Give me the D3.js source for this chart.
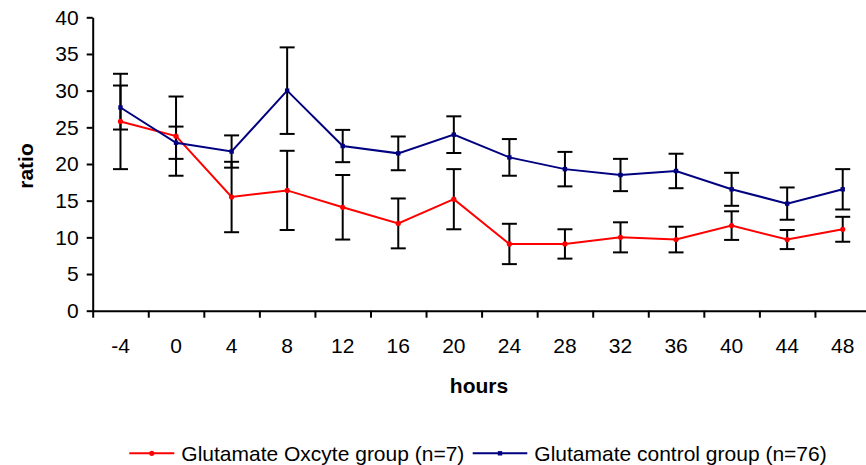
<!DOCTYPE html>
<meta charset="utf-8">
<style>
body { margin: 0; background: #fff; }
text { font-family: Arial, "Liberation Sans", sans-serif; fill: #000; }
.axis path, .axis line { stroke: #000; stroke-width: 2px; }
.axis text { font-size: 21px; }
.label { font-size: 21px; font-weight: bold; }
</style>
<body>
<script src="https://d3js.org/d3.v7.min.js"></script>
<script>

// data
var hours = ["-4", "0", "4", "8", "12", "16", "20", "24", "28", "32", "36", "40", "44", "48"];
var oxcyte = [25.8, 23.8, 15.5, 16.4, 14.1, 11.9, 15.2, 9.1, 9.1, 10.0, 9.7, 11.6, 9.7, 11.1];
var oxcyteErr = [6.5, 5.4, 4.8, 5.4, 4.4, 3.4, 4.1, 2.75, 2.0, 2.05, 1.75, 1.95, 1.3, 1.7];
var control = [27.7, 22.9, 21.7, 30.0, 22.45, 21.45, 24.0, 20.9, 19.3, 18.5, 19.05, 16.55, 14.6, 16.55];
var controlErr = [3.0, 2.2, 2.2, 5.9, 2.2, 2.3, 2.5, 2.5, 2.35, 2.2, 2.35, 2.25, 2.2, 2.75];
var yTicks = [0, 5, 10, 15, 20, 25, 30, 35, 40];

var width = 866, height = 465;
var plot = {left: 92.7, right: 870.5, top: 17.3, bottom: 310.7};

var svg = d3.select("body").append("svg")
    .attr("width", width)
    .attr("height", height);

var x = d3.scaleBand().domain(hours).range([plot.left, plot.right]);
var y = d3.scaleLinear().domain([0, 40]).range([plot.bottom, plot.top]);

// x axis: labels centred in the bands, ticks on band edges
var xEdges = d3.scaleLinear().domain([0, hours.length]).range([plot.left, plot.right]);
svg.append("g")
    .attr("class", "axis")
    .attr("transform", "translate(0," + plot.bottom + ")")
    .call(d3.axisBottom(xEdges).tickValues(d3.range(hours.length + 1)).tickSize(7).tickSizeOuter(0).tickFormat(""));
svg.append("g")
    .attr("class", "axis")
    .attr("transform", "translate(0," + plot.bottom + ")")
    .call(d3.axisBottom(x).tickSize(0).tickPadding(27))
    .call(function(g) { g.select(".domain").remove(); });

// y axis
svg.append("g")
    .attr("class", "axis")
    .attr("transform", "translate(" + plot.left + ",0)")
    .call(d3.axisLeft(y).tickValues(yTicks).tickSize(6).tickSizeOuter(0).tickPadding(8));

// axis titles
svg.append("text").attr("class", "label")
    .attr("x", 479).attr("y", 392.5)
    .attr("text-anchor", "middle")
    .text("hours");
svg.append("text").attr("class", "label")
    .attr("transform", "translate(33,166) rotate(-90)")
    .attr("text-anchor", "middle")
    .text("ratio");

var series = [
  {name: "Glutamate Oxcyte group (n=7)", values: oxcyte, err: oxcyteErr, color: "#ff0000", marker: "circle"},
  {name: "Glutamate control group (n=76)", values: control, err: controlErr, color: "#000080", marker: "square"}
];

var cx = function(i) { return x(hours[i]) + x.bandwidth() / 2; };
var line = d3.line()
    .x(function(d, i) { return cx(i); })
    .y(function(d) { return y(d); });

series.forEach(function(s) {
  svg.append("path")
      .datum(s.values)
      .attr("fill", "none")
      .attr("stroke", s.color)
      .attr("stroke-width", 2)
      .attr("d", line);
});

// error bars
series.forEach(function(s) {
  var g = svg.append("g").attr("stroke", "#000").attr("stroke-width", 2);
  s.values.forEach(function(v, i) {
    var hi = y(v + s.err[i]), lo = y(v - s.err[i]);
    g.append("line").attr("x1", cx(i)).attr("x2", cx(i)).attr("y1", hi).attr("y2", lo);
    g.append("line").attr("x1", cx(i) - 7.5).attr("x2", cx(i) + 7.5).attr("y1", hi).attr("y2", hi);
    g.append("line").attr("x1", cx(i) - 7.5).attr("x2", cx(i) + 7.5).attr("y1", lo).attr("y2", lo);
  });
});

// markers
function drawMarker(g, type, px, py, color) {
  if (type == "circle") {
    g.append("circle").attr("cx", px).attr("cy", py).attr("r", 2.6).attr("fill", color);
  } else {
    g.append("rect").attr("x", px - 2.2).attr("y", py - 2.2).attr("width", 4.4).attr("height", 4.4).attr("fill", color);
  }
}
series.forEach(function(s) {
  var g = svg.append("g");
  s.values.forEach(function(v, i) { drawMarker(g, s.marker, cx(i), y(v), s.color); });
});

// legend
var legendX = [129.3, 472.7], legendLen = [45, 54.6];
series.forEach(function(s, i) {
  var g = svg.append("g").attr("transform", "translate(" + legendX[i] + ",453.3)");
  g.append("line").attr("x1", 0).attr("x2", legendLen[i]).attr("stroke", s.color).attr("stroke-width", 2);
  drawMarker(g, s.marker, legendLen[i] / 2, 0, s.color);
  g.append("text").attr("x", legendLen[i] + 7).attr("y", 7.5).style("font-size", "21px").text(s.name);
});

</script>
</body>
